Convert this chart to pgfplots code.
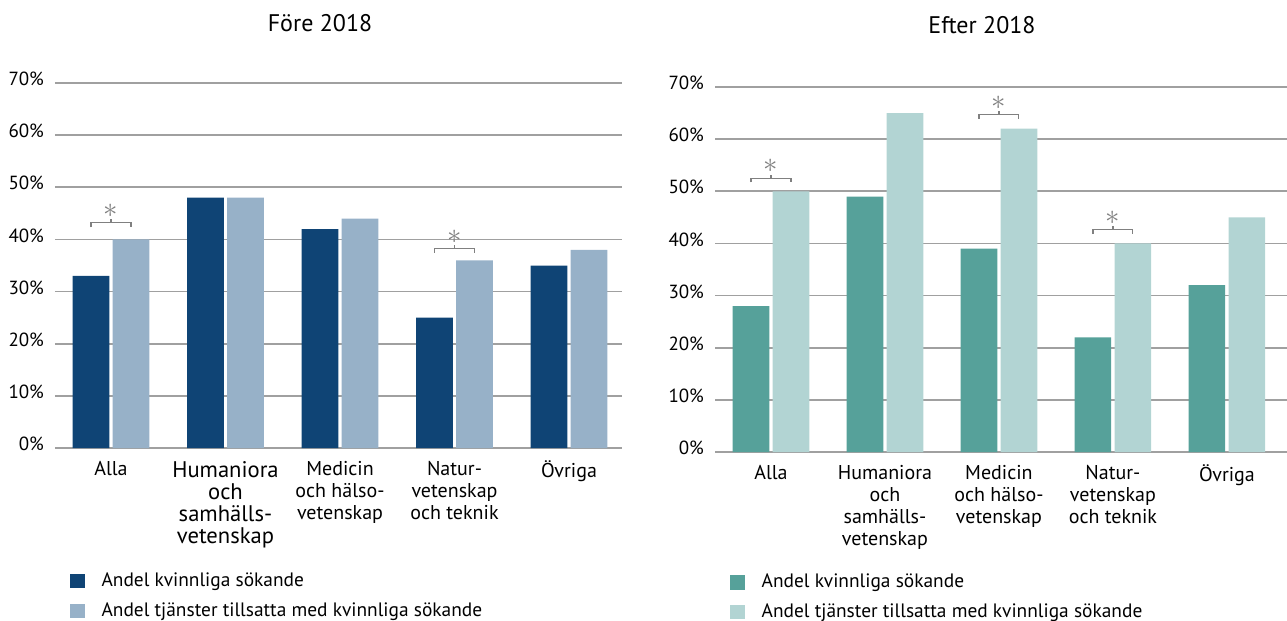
\documentclass[border=0pt]{standalone}
\usepackage{pgfplots}
\pgfplotsset{compat=1.18}
\usepackage{fontspec}
\setmainfont{PT Sans}
\definecolor{navy}{HTML}{0F4475}
\definecolor{lblue}{HTML}{97B1C8}
\definecolor{teal2}{HTML}{56A19A}
\definecolor{lteal}{HTML}{B2D4D3}
\definecolor{gridc}{HTML}{A0A0A0}
\definecolor{brk}{HTML}{808080}
\newcommand\hb[1]{{\fontsize{11.3}{11}\selectfont #1}}
\pgfplotsset{
 mybar/.style={
  scale only axis,
  ymin=0, ymax=70, ytick={0,10,...,70},
  ymajorgrids, grid style={gridc, line width=0.8pt},
  axis line style={draw=none},
  major tick length=0pt,
  xtick={0,1,2,3,4},
  yticklabel={\pgfmathprintnumber{\tick}\%},
  /pgf/number format/assume math mode=true,
  yticklabel style={font=\fontsize{9.5}{10}\selectfont, xshift=-2pt, yshift=2pt},
  xticklabel style={font=\fontsize{10}{11}\selectfont, align=center, yshift=-3pt},
  ybar, bar width=18.3pt,
  clip=false,
  legend cell align=left,
  legend style={draw=none, fill=none, font=\fontsize{9.7}{10}\selectfont, row sep=2.5pt, column sep=6.5pt, inner sep=0pt},
 }
}
\tikzset{star/.style={brk, font=\fontsize{14}{14}\selectfont, anchor=center, inner sep=0pt}}
\begin{document}
\begin{tikzpicture}
\path[use as bounding box] (0,0) rectangle (643.5pt,-310.5pt);
\node[font=\fontsize{12}{14}\selectfont, anchor=base] at (160pt,-15.8pt) {Före 2018};
\node[font=\fontsize{12}{14}\selectfont, anchor=base] at (491pt,-16.5pt) {Efter 2018};

\begin{axis}[mybar, at={(27.5pt,-224pt)}, anchor=south west, width=283.5pt, height=182.5pt,
  xmin=-0.489, xmax=4.463,
  xticklabels={Alla, {\hb{Humaniora}\\\hb{och}\\\hb{samhälls-}\\\hb{vetenskap}}, {Medicin\\och hälso-\\vetenskap}, {Natur-\\vetenskap\\och teknik}, Övriga},
  legend image code/.code={\fill[#1] (0pt,-3.6pt) rectangle (7.2pt,3.6pt);},
  legend style={at={(axis description cs:0.026,-0.33)}, anchor=north west}]
\addplot[fill=navy, draw=none, bar shift=-10pt] coordinates {(0,33) (1,48) (2,42) (3,25) (4,35)};
\addplot[fill=lblue, draw=none, bar shift=10pt] coordinates {(0,40) (1,48) (2,44) (3,36) (4,38)};
\legend{Andel kvinnliga sökande, Andel tjänster tillsatta med kvinnliga sökande}
\draw[brk, line width=0.6pt] (axis cs:-0.175,42.3) -- (axis cs:-0.175,43.2) -- (axis cs:0.175,43.2) -- (axis cs:0.175,42.3);
\draw[brk, line width=0.6pt] (axis cs:0,43.2) -- (axis cs:0,43.9);
\node[star] at (axis cs:0,45.5) {$\ast$};
\draw[brk, line width=0.6pt] (axis cs:2.825,37.4) -- (axis cs:2.825,38.2) -- (axis cs:3.175,38.2) -- (axis cs:3.175,37.4);
\draw[brk, line width=0.6pt] (axis cs:3,38.2) -- (axis cs:3,38.9);
\node[star] at (axis cs:3,40.5) {$\ast$};
\end{axis}

\begin{axis}[mybar, at={(357.5pt,-226pt)}, anchor=south west, width=286pt, height=182.5pt,
  xmin=-0.491, xmax=4.527,
  xticklabels={Alla, {Humaniora\\och\\samhälls-\\vetenskap}, {Medicin\\och hälso-\\vetenskap}, {Natur-\\vetenskap\\och teknik}, Övriga},
  legend image code/.code={\fill[#1] (0pt,-3.6pt) rectangle (7.2pt,3.6pt);},
  legend style={at={(axis description cs:0.026,-0.322)}, anchor=north west}]
\addplot[fill=teal2, draw=none, bar shift=-10pt] coordinates {(0,28) (1,49) (2,39) (3,22) (4,32)};
\addplot[fill=lteal, draw=none, bar shift=10pt] coordinates {(0,50) (1,65) (2,62) (3,40) (4,45)};
\legend{Andel kvinnliga sökande, Andel tjänster tillsatta med kvinnliga sökande}
\draw[brk, line width=0.6pt] (axis cs:-0.175,51.7) -- (axis cs:-0.175,52.5) -- (axis cs:0.175,52.5) -- (axis cs:0.175,51.7);
\draw[brk, line width=0.6pt] (axis cs:0,52.5) -- (axis cs:0,53.2);
\node[star] at (axis cs:0,54.9) {$\ast$};
\draw[brk, line width=0.6pt] (axis cs:1.825,63.9) -- (axis cs:1.825,64.7) -- (axis cs:2.175,64.7) -- (axis cs:2.175,63.9);
\draw[brk, line width=0.6pt] (axis cs:2,64.7) -- (axis cs:2,65.4);
\node[star] at (axis cs:2,66.9) {$\ast$};
\draw[brk, line width=0.6pt] (axis cs:2.825,41.8) -- (axis cs:2.825,42.6) -- (axis cs:3.175,42.6) -- (axis cs:3.175,41.8);
\draw[brk, line width=0.6pt] (axis cs:3,42.6) -- (axis cs:3,43.3);
\node[star] at (axis cs:3,45.0) {$\ast$};
\end{axis}
\end{tikzpicture}
\end{document}
